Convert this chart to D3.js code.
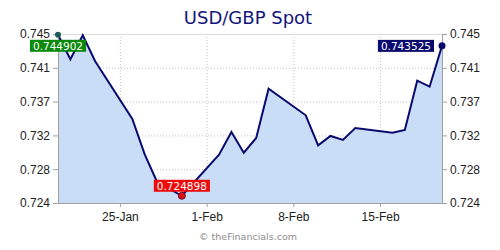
<!DOCTYPE html>
<html lang="en">
<head>
    <meta charset="UTF-8">
    <title>USD/GBP Spot</title>
    <script src="https://d3js.org/d3.v7.min.js"></script>
    <style>
        body {
            margin: 0;
            background: #fff;
            font-family: Verdana, 'DejaVu Sans', sans-serif;
        }
        .grid line {
            stroke: #c4c4c4;
            stroke-width: 1px;
            stroke-dasharray: 1 2;
        }
        .axis text {
            fill: #222;
            font-size: 12px;
        }
        .axis line, .axis path {
            stroke: #a0a0a0;
        }
        .tag text {
            fill: #fff;
            font-size: 10.5px;
        }
    </style>
</head>
<body>
    <div id="chart"></div>
    <script>
        // daily USD/GBP spot rates (weekdays only)
        const dates = [
            "2026-01-20", "2026-01-21", "2026-01-22", "2026-01-23",
            "2026-01-26", "2026-01-27", "2026-01-28", "2026-01-29", "2026-01-30",
            "2026-02-02", "2026-02-03", "2026-02-04", "2026-02-05", "2026-02-06",
            "2026-02-09", "2026-02-10", "2026-02-11", "2026-02-12", "2026-02-13",
            "2026-02-16", "2026-02-17", "2026-02-18", "2026-02-19", "2026-02-20"
        ];
        const rates = [
            0.744902, 0.74186, 0.74484, 0.74161,
            0.73444, 0.73004, 0.72661, 0.72574, 0.724898,
            0.73000, 0.73282, 0.73025, 0.73208, 0.73820,
            0.73490, 0.73117, 0.73233, 0.73183, 0.73332,
            0.73274, 0.73307, 0.73920, 0.73845, 0.743525
        ];
        const xTicks = ["2026-01-25", "2026-02-01", "2026-02-08", "2026-02-15"];
        const yTicks = [0.724, 0.7282, 0.7324, 0.7366, 0.7408, 0.745];
        const xDomain = ["2026-01-20", "2026-02-20"];
        const yDomain = [0.724, 0.745];

        const parse = d3.utcParse("%Y-%m-%d");
        const data = dates.map((d, i) => ({ date: parse(d), value: rates[i] }));

        const W = 500, H = 250;
        const margin = { top: 34, right: 58, bottom: 47, left: 58 };
        const width = W - margin.left - margin.right;
        const height = H - margin.top - margin.bottom;

        const x = d3.scaleUtc()
            .domain(xDomain.map(parse))
            .range([0, width]);

        const y = d3.scaleLinear()
            .domain(yDomain)
            .range([height, 0]);

        const svg = d3.select("#chart").append("svg")
            .attr("width", W)
            .attr("height", H);

        svg.append("text")
            .attr("x", 248)
            .attr("y", 24)
            .attr("text-anchor", "middle")
            .attr("fill", "#14147a")
            .style("font-size", "18px")
            .text("USD/GBP Spot");

        svg.append("text")
            .attr("x", 248)
            .attr("y", 240)
            .attr("text-anchor", "middle")
            .attr("fill", "#8c8c8c")
            .style("font-size", "9.5px")
            .text("© theFinancials.com");

        const g = svg.append("g")
            .attr("transform", `translate(${margin.left},${margin.top})`);

        // dotted grid
        g.append("g")
            .attr("class", "grid")
            .call(d3.axisLeft(y).tickValues(yTicks).tickSize(-width).tickFormat(""))
            .call(s => s.select(".domain").remove());

        g.append("g")
            .attr("class", "grid")
            .attr("transform", `translate(0,${height})`)
            .call(d3.axisBottom(x).tickValues(xTicks.map(parse)).tickSize(-height).tickFormat(""))
            .call(s => s.select(".domain").remove());

        const area = d3.area()
            .x(d => x(d.date))
            .y0(height)
            .y1(d => y(d.value));

        const line = d3.line()
            .x(d => x(d.date))
            .y(d => y(d.value));

        g.append("path")
            .datum(data)
            .attr("fill", "#c9def6")
            .attr("d", area);

        g.append("line")
            .attr("x1", 0).attr("x2", width)
            .attr("y1", 0.5).attr("y2", 0.5)
            .attr("stroke", "#dcdcdc");

        g.append("path")
            .datum(data)
            .attr("fill", "none")
            .attr("stroke", "#0a0a6e")
            .attr("stroke-width", 2)
            .attr("stroke-linejoin", "miter")
            .attr("d", line);

        // axes
        const fmt = d3.format(".3f");
        g.append("g")
            .attr("class", "axis")
            .call(d3.axisLeft(y).tickValues(yTicks).tickFormat(fmt).tickSize(5).tickSizeOuter(0).tickPadding(3));

        g.append("g")
            .attr("class", "axis")
            .attr("transform", `translate(${width},0)`)
            .call(d3.axisRight(y).tickValues(yTicks).tickFormat(fmt).tickSize(5).tickSizeOuter(0).tickPadding(3));

        g.append("g")
            .attr("class", "axis")
            .attr("transform", `translate(0,${height})`)
            .call(d3.axisBottom(x).tickValues(xTicks.map(parse)).tickFormat(d3.utcFormat("%-d-%b")).tickSize(4).tickSizeOuter(0).tickPadding(5));

        // marked points with value tags
        const first = data[0];
        const last = data[data.length - 1];
        const low = data.reduce((a, b) => (b.value < a.value ? b : a));

        function tag(d, color, place) {
            const px = x(d.date), py = y(d.value);
            const t = g.append("g").attr("class", "tag");
            const txt = t.append("text").text(d.value.toFixed(6));
            const bb = txt.node().getBBox();
            const bw = bb.width + 6, bh = 12;
            let bx, by;
            if (place === "below") { bx = px - bw / 2; by = py + 5; }
            if (place === "above") { bx = px - bw / 2; by = py - bh - 4; }
            if (place === "left") { bx = px - bw - 8; by = py - bh / 2; }
            t.insert("rect", "text")
                .attr("x", bx).attr("y", by)
                .attr("width", bw).attr("height", bh)
                .attr("fill", color);
            txt.attr("x", bx + 3).attr("y", by + bh - 2);
        }

        tag(first, "#0a8a0a", "below");
        tag(low, "#ee0a0a", "above");
        tag(last, "#0a0a6e", "left");

        g.append("circle")
            .attr("cx", x(first.date)).attr("cy", y(first.value)).attr("r", 3)
            .attr("fill", "#1d5a5a");
        g.append("circle")
            .attr("cx", x(low.date)).attr("cy", y(low.value)).attr("r", 3.5)
            .attr("fill", "#e01010").attr("stroke", "#6a0a2a").attr("stroke-width", 1);
        g.append("circle")
            .attr("cx", x(last.date)).attr("cy", y(last.value)).attr("r", 3.5)
            .attr("fill", "#0a0a6e");
    </script>
</body>
</html>
